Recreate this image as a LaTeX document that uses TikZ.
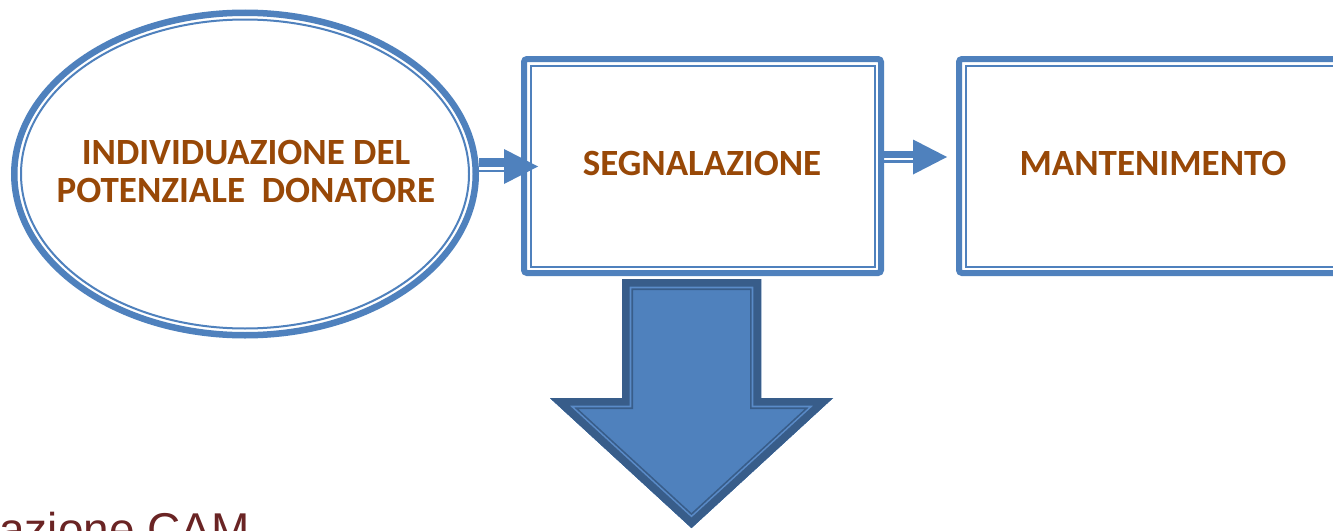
\documentclass[tikz,border=0pt]{standalone}
\usepackage{fontspec}
\setmainfont{Carlito}
\newfontfamily\arialfont{Liberation Sans}
\usetikzlibrary{shapes.geometric,calc}
\definecolor{blu}{HTML}{4F81BD}
\definecolor{darkblu}{HTML}{385D8A}
\definecolor{stripeblu}{HTML}{5A8BC8}
\definecolor{labbrown}{HTML}{984807}
\definecolor{camred}{HTML}{6A2424}
\tikzset{
  lab/.style={anchor=base, inner sep=0pt, text=labbrown, font=\fontsize{37}{40}\selectfont\bfseries},
  boxouter/.style={rectangle, draw=blu, line width=6pt, rounded corners=3pt, inner sep=0pt},
  thinline/.style={draw=blu, line width=2pt},
  shaftthick/.style={draw=blu, line width=9pt},
  shaftthin/.style={draw=blu, line width=2.7pt},
  headfill/.style={fill=blu}
}
\begin{document}
\begin{tikzpicture}[x=1pt,y=-1pt]
\useasboundingbox (0,0) rectangle (1333,530);
\clip (0,0) rectangle (1333,530);
\fill[white] (0,0) rectangle (1333,530);
% ellipse
\node[ellipse, draw=blu, line width=6.5pt, minimum width=461.5pt, minimum height=322.5pt, inner sep=0pt] (ell) at (245,174) {};
\draw[thinline] (ell.center) ellipse [x radius=224pt, y radius=154.5pt];
\node[lab] (t1a) at (246,164) {INDIVIDUAZIONE DEL};
\node[lab] (t1b) at (246,202) {POTENZIALE\ \ DONATORE};
% box 1
\node[boxouter, minimum width=357pt, minimum height=214pt] (b1) at (702.5,166) {};
\draw[thinline] ($(b1.north west)+(9.5,9.5)$) rectangle ($(b1.south east)+(-9.5,-9.5)$);
\node[lab] (t2) at (702,175) {SEGNALAZIONE};
% box 2
\node[boxouter, minimum width=388pt, minimum height=214pt] (b2) at (1153,166) {};
\draw[thinline] ($(b2.north west)+(9.5,9.5)$) rectangle ($(b2.south east)+(-9.5,-9.5)$);
\node[lab] (t3) at (1153,175) {MANTENIMENTO};
% arrow 1: ellipse -> box 1
\coordinate (a1tip) at ($(b1.west)+(17,0.5)$);
\coordinate (a1base) at ($(a1tip)+(-34,0)$);
\draw[shaftthick] ($(ell.east |- a1tip)+(0,-4)$) -- ($(a1base)+(1,-4)$);
\draw[shaftthin] ($(ell.east |- a1tip)+(0,4.5)$) -- ($(a1base)+(1,4.5)$);
\fill[headfill] (a1tip) -- ($(a1base)+(0,-17.5)$) -- ($(a1base)+(0,17.5)$) -- cycle;
% arrow 2: box 1 -> box 2
\coordinate (a2tip) at ($(b2.west)+(-9,-9)$);
\coordinate (a2base) at ($(a2tip)+(-34,0)$);
\draw[shaftthick, line width=7.3pt] ($(b1.east |- a2tip)+(0,-2.3)$) -- ($(a2base)+(1,-2.3)$);
\draw[shaftthin] ($(b1.east |- a2tip)+(0,4.7)$) -- ($(a2base)+(1,4.7)$);
\fill[headfill] (a2tip) -- ($(a2base)+(0,-17.5)$) -- ($(a2base)+(0,17.5)$) -- cycle;
% big down arrow
\begin{scope}
\clip (622,279) -- (761,279) -- (761,398) -- (833,398) -- (691.5,528) -- (550,398) -- (622,398) -- cycle;
\fill[blu] (622,279) -- (761,279) -- (761,398) -- (833,398) -- (691.5,528) -- (550,398) -- (622,398) -- cycle;
\draw[darkblu, line width=22pt, line join=miter] (622,279) -- (761,279) -- (761,398) -- (833,398) -- (691.5,528) -- (550,398) -- (622,398) -- cycle;
\draw[stripeblu, line width=18.6pt, line join=miter] (622,279) -- (761,279) -- (761,398) -- (833,398) -- (691.5,528) -- (550,398) -- (622,398) -- cycle;
\draw[darkblu, line width=15.4pt, line join=miter] (622,279) -- (761,279) -- (761,398) -- (833,398) -- (691.5,528) -- (550,398) -- (622,398) -- cycle;
\end{scope}
% bottom text (cut off by the lower edge, as in the reference)
\node[anchor=base east, inner sep=0pt, text=camred, font=\arialfont\fontsize{46}{50}\selectfont] (cam) at (250,545) {azione CAM};
\end{tikzpicture}
\end{document}
